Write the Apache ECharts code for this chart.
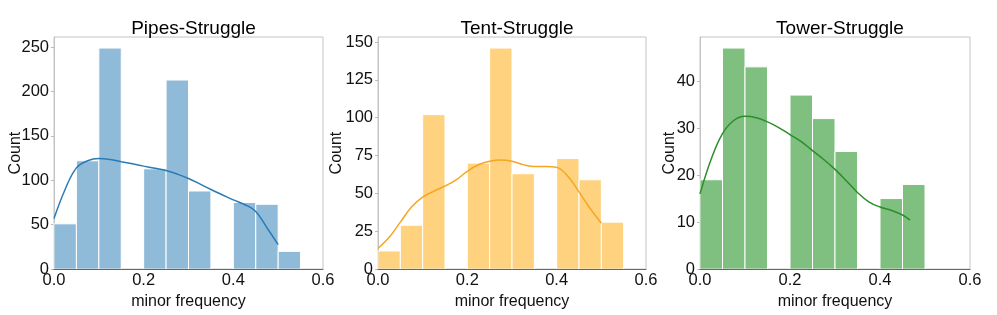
<!DOCTYPE html>
<html>
<head>
<meta charset="utf-8">
<script src="https://cdn.jsdelivr.net/npm/echarts@6/dist/echarts.min.js"></script>
<style>
html,body{margin:0;padding:0;background:#fff;}
#chart{width:997px;height:315px;}
</style>
</head>
<body>
<div id="chart"></div>
<script>
// ---------- data ----------
const titles = ['Pipes-Struggle', 'Tent-Struggle', 'Tower-Struggle'];
const xLabel = 'minor frequency';
const yLabel = 'Count';
const binWidth = 0.05;
const binStarts = [0, 0.05, 0.1, 0.15, 0.2, 0.25, 0.3, 0.35, 0.4, 0.45, 0.5];
const pipesCounts = [51, 122, 249, 0, 113, 213, 88, 0, 75, 73, 20];
const tentCounts = [12, 29, 102, 0, 70, 146, 63, 0, 73, 59, 31];
const towerCounts = [19, 47, 43, 0, 37, 32, 25, 0, 15, 18];

const kdeX = [0, 0.025, 0.05, 0.075, 0.1, 0.125, 0.15, 0.175, 0.2, 0.225, 0.25, 0.275, 0.3, 0.325, 0.35, 0.375, 0.4, 0.425, 0.45, 0.475, 0.5];
const pipesKde = [57, 90, 114, 122, 124.5, 123.5, 121, 118.6, 116, 113.5, 111, 107, 102, 96, 89.7, 83.8, 78, 72.8, 65, 46.5, 27.5];
const tentKde = [13.6, 21, 31, 41, 47.5, 51.4, 54.9, 59, 64.6, 68.9, 71.2, 72, 71.2, 69, 67.8, 67.8, 67.2, 61.3, 51, 40, 30.3];
const towerKdeX = [0, 0.025, 0.05, 0.075, 0.1, 0.125, 0.15, 0.175, 0.2, 0.225, 0.25, 0.275, 0.3, 0.325, 0.35, 0.375, 0.4, 0.425, 0.45, 0.4667];
const towerKde = [16, 23.4, 28.8, 31.6, 32.5, 32.2, 31.3, 30.1, 28.6, 27.1, 25.2, 23.3, 21.2, 18.8, 16.3, 14.3, 13.2, 12.5, 11.5, 10.4];

const xTicks = [0, 0.2, 0.4, 0.6];
const yIntervals = [50, 25, 10];

// ---------- styles / layout ----------
const lineColors = ['#2a7ab5', '#f5a623', '#2a8f2a'];
const barColors = ['rgba(31,119,180,0.5)', 'rgba(255,165,0,0.5)', 'rgba(0,128,0,0.5)'];
const grids = [
  {left: 54, top: 37, width: 269, height: 238},
  {left: 378, top: 37, width: 268, height: 238},
  {left: 700, top: 37, width: 270, height: 238}
];
const yNameGaps = [30, 33, 22];
const FONT = '"Liberation Sans", Arial, sans-serif';

const countsList = [pipesCounts, tentCounts, towerCounts];
const kdeList = [
  kdeX.map((x, i) => [x, pipesKde[i]]),
  kdeX.map((x, i) => [x, tentKde[i]]),
  towerKdeX.map((x, i) => [x, towerKde[i]])
];

function makeHist(idx) {
  return function (params, api) {
    const x0 = api.value(0), c = api.value(1);
    if (!c) return null;
    const p0 = api.coord([x0, 0]);
    const p1 = api.coord([x0 + binWidth, c]);
    return {
      type: 'rect',
      shape: {x: p0[0], y: p1[1], width: p1[0] - p0[0], height: p0[1] - p1[1]},
      style: {fill: barColors[idx], stroke: '#ffffff', lineWidth: 1}
    };
  };
}

const option = {
  animation: false,
  backgroundColor: '#ffffff',
  textStyle: {fontFamily: FONT},
  title: titles.map((t, i) => ({
    text: t,
    left: grids[i].left + grids[i].width / 2,
    top: 14,
    textAlign: 'center',
    textStyle: {fontFamily: FONT, fontSize: 19, fontWeight: 'normal', color: '#000'}
  })),
  grid: grids.map(g => Object.assign({show: true, borderColor: '#c4c4c4', borderWidth: 1, backgroundColor: 'transparent'}, g)),
  xAxis: grids.map((g, i) => ({
    type: 'value',
    gridIndex: i,
    z: 5,
    min: xTicks[0],
    max: xTicks[xTicks.length - 1],
    interval: xTicks[1] - xTicks[0],
    name: xLabel,
    nameLocation: 'middle',
    nameGap: 18,
    nameTextStyle: {fontFamily: FONT, fontSize: 16, color: '#111'},
    axisLine: {show: true, lineStyle: {color: '#666', width: 1}},
    axisTick: {show: false},
    splitLine: {show: false},
    axisLabel: {fontFamily: FONT, fontSize: 16.5, color: '#111', margin: 3,
      formatter: v => v.toFixed(1)}
  })),
  yAxis: grids.map((g, i) => ({
    type: 'value',
    gridIndex: i,
    min: 0,
    max: Math.max(...countsList[i]) * 1.05,
    interval: yIntervals[i],
    name: yLabel,
    nameLocation: 'middle',
    nameGap: yNameGaps[i],
    nameMoveOverlap: false,
    nameTextStyle: {fontFamily: FONT, fontSize: 16, color: '#111'},
    axisLine: {show: true, lineStyle: {color: '#c4c4c4', width: 1}},
    axisTick: {show: true, length: 3, lineStyle: {color: '#bbb'}},
    splitLine: {show: false},
    axisLabel: {fontFamily: FONT, fontSize: 16.5, color: '#111', margin: 5,
      showMaxLabel: false,
      formatter: v => (Math.abs(v / yIntervals[i] - Math.round(v / yIntervals[i])) < 1e-6 ? String(Math.round(v)) : '')}
  })),
  series: []
};

countsList.forEach((counts, i) => {
  option.series.push({
    type: 'custom',
    xAxisIndex: i,
    yAxisIndex: i,
    renderItem: makeHist(i),
    encode: {x: 0, y: 1},
    data: counts.map((c, k) => [binStarts[k], c]),
    z: 2
  });
  option.series.push({
    type: 'line',
    xAxisIndex: i,
    yAxisIndex: i,
    data: kdeList[i],
    smooth: 0.4,
    showSymbol: false,
    lineStyle: {color: lineColors[i], width: 1.5},
    z: 3
  });
});

const chart = echarts.init(document.getElementById('chart'), null, {renderer: 'canvas'});
chart.setOption(option);
</script>
</body>
</html>
